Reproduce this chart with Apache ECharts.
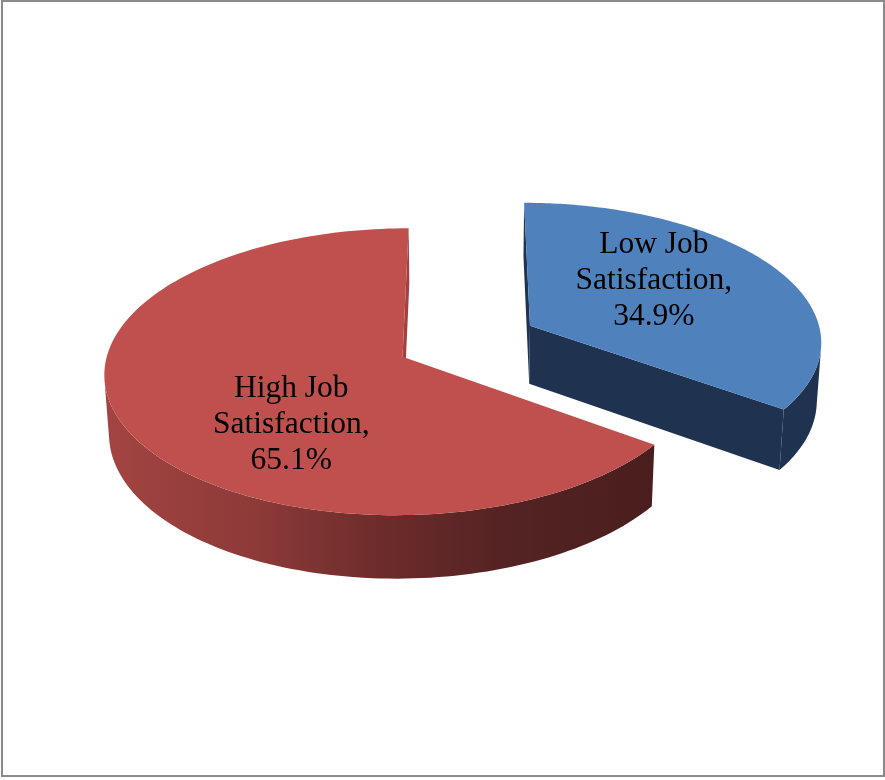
<!DOCTYPE html>
<html>
<head>
<meta charset="utf-8">
<title>Job Satisfaction</title>
<script src="https://cdn.jsdelivr.net/npm/echarts@6/dist/echarts.min.js"></script>
<style>
  html, body { margin: 0; padding: 0; background: #ffffff; }
  #chart { width: 885px; height: 780px; }
</style>
</head>
<body>
<div id="chart"></div>
<script>
// Share of respondents by job satisfaction level
const categories = ['Low Job\nSatisfaction', 'High Job\nSatisfaction'];
const values = [34.9, 65.1];

// Fill colours per slice: top face, side gradient stops, cut walls
const sliceStyles = [
  { top: '#4F81BD', side: [[0, '#1F3350'], [1, '#1F3350']], wall: '#1F3350' },
  { top: '#C0504D', side: [[0, '#A34442'], [0.28, '#8C3A38'], [0.5, '#6D2C2B'], [0.72, '#552323'], [1, '#4A1E1E']], wall: '#A5403F' }
];

// Simple perspective camera for the tilted, exploded pie
const CX = 467, CY = 341;      // screen position of the pie centre
const F = 2485;                // focal length (px)
const D0 = 8.5;                // camera distance (pie radius = 1)
const PHI = 28.3 * Math.PI / 180; // elevation of the view
const SIN_P = Math.sin(PHI), COS_P = Math.cos(PHI);
const EXPLODE = 0.245;         // slice offset along its bisector
const THICK = 0.23;            // pie thickness
const LABEL_R = 0.57, LABEL_FRAC = 0.4;
const LABEL_SHIFT = [4, 3];    // nudge of the label block (px)
const LABEL_FONT = '31.5px "Liberation Serif", "Times New Roman", serif';
const CAM = [0, D0 * SIN_P, -D0 * COS_P];

function project(X, Y, Z) {
  const depth = D0 + Z * COS_P - Y * SIN_P;
  return [CX + F * X / depth, CY - F * (Y * COS_P + Z * SIN_P) / depth];
}
function facing(nx, nz, px, py, pz) {
  return nx * (CAM[0] - px) + nz * (CAM[2] - pz) > 0;
}

const total = values.reduce((a, b) => a + b, 0);
const starts = [];
values.reduce((acc, v, i) => { starts[i] = acc; return acc + v; }, 0);

function renderItem(params, api) {
  const i = params.dataIndex;
  const v = api.value(0);
  const a0 = starts[i] / total * Math.PI * 2;
  const a1 = a0 + v / total * Math.PI * 2;
  const mid = (a0 + a1) / 2;
  const ox = EXPLODE * Math.sin(mid), oz = EXPLODE * Math.cos(mid);
  const st = sliceStyles[i];
  const rim = (t, y) => project(ox + Math.sin(t), y, oz + Math.cos(t));
  const apex = (y) => project(ox, y, oz);
  const N = 160;
  const children = [];

  // cut walls at the start and end angle
  const walls = [
    { t: a0, n: [-Math.cos(a0), Math.sin(a0)] },
    { t: a1, n: [Math.cos(a1), -Math.sin(a1)] }
  ];
  walls.forEach(w => {
    const px = ox + Math.sin(w.t) / 2, pz = oz + Math.cos(w.t) / 2;
    if (facing(w.n[0], w.n[1], px, -THICK / 2, pz)) {
      children.push({
        type: 'polygon',
        shape: { points: [apex(0), rim(w.t, 0), rim(w.t, -THICK), apex(-THICK)] },
        style: { fill: st.wall }
      });
    }
  });

  // outer curved side, visible part only
  const topPts = [], botPts = [];
  for (let k = 0; k <= N; k++) {
    const t = a0 + (a1 - a0) * k / N;
    const px = ox + Math.sin(t), pz = oz + Math.cos(t);
    if (facing(Math.sin(t), Math.cos(t), px, -THICK / 2, pz)) {
      topPts.push(rim(t, 0));
      botPts.push(rim(t, -THICK));
    }
  }
  if (topPts.length > 1) {
    const pts = topPts.concat(botPts.reverse());
    const xs = pts.map(p => p[0]);
    const x0 = Math.min.apply(null, xs), x1 = Math.max.apply(null, xs);
    children.push({
      type: 'polygon',
      shape: { points: pts },
      style: {
        fill: new echarts.graphic.LinearGradient(x0, 0, x1, 0,
          st.side.map(s => ({ offset: s[0], color: s[1] })), true)
      }
    });
  }

  // top face
  const top = [apex(0)];
  for (let k = 0; k <= N; k++) top.push(rim(a0 + (a1 - a0) * k / N, 0));
  children.push({ type: 'polygon', shape: { points: top }, style: { fill: st.top } });

  // data label on the top face
  const lt = a0 + (a1 - a0) * LABEL_FRAC;
  const lp = project(ox + LABEL_R * Math.sin(lt), 0, oz + LABEL_R * Math.cos(lt));
  children.push({
    type: 'text',
    style: {
      text: categories[i] + ',\n' + v.toFixed(1) + '%',
      x: lp[0] + LABEL_SHIFT[0], y: lp[1] + LABEL_SHIFT[1],
      align: 'center', verticalAlign: 'middle',
      font: LABEL_FONT,
      lineHeight: 36, fill: '#000000'
    }
  });

  return { type: 'group', children: children };
}

const chart = echarts.init(document.getElementById('chart'), null, { renderer: 'canvas' });
chart.setOption({
  backgroundColor: '#ffffff',
  animation: false,
  graphic: [{
    type: 'rect',
    shape: { x: 2, y: 1, width: 882, height: 775 },
    style: { fill: 'none', stroke: '#8a8a8a', lineWidth: 2 },
    z: 10
  }],
  series: [{
    type: 'custom',
    coordinateSystem: 'none',
    data: values.map((v, i) => ({ name: categories[i], value: [v] })),
    renderItem: renderItem
  }]
});
</script>
</body>
</html>
